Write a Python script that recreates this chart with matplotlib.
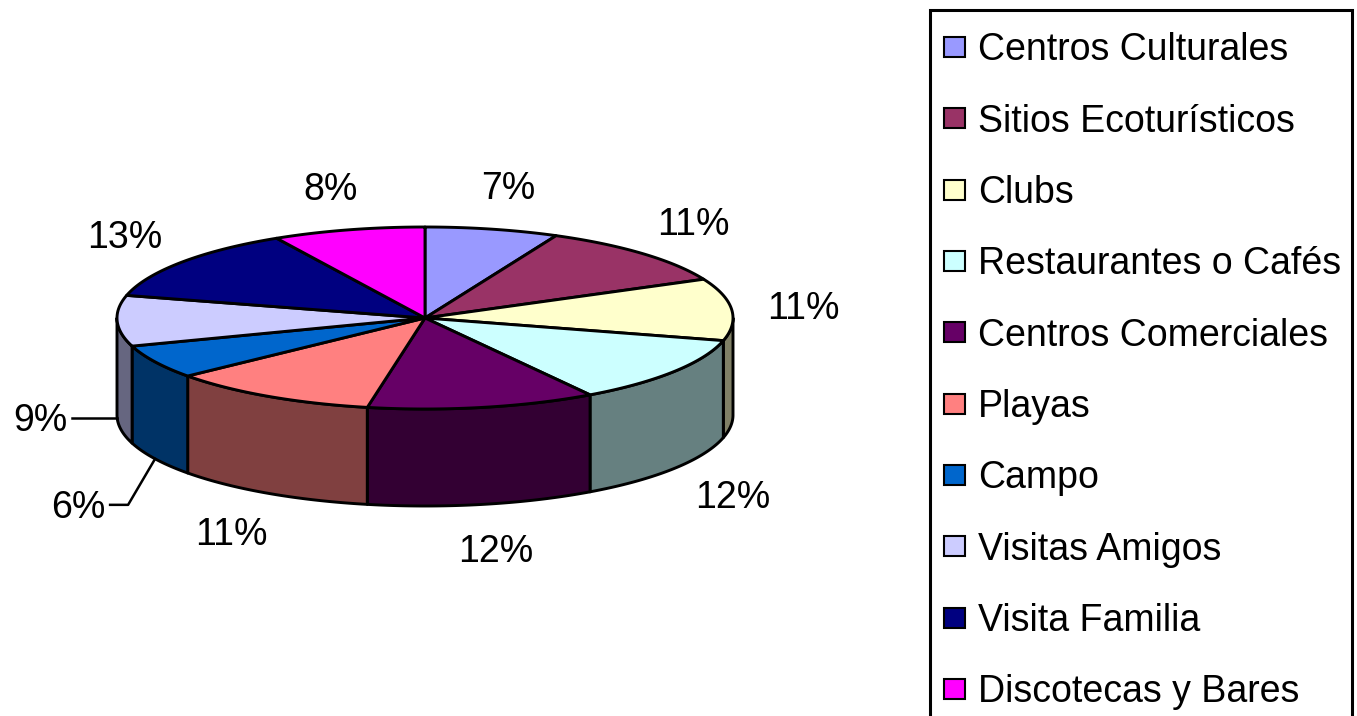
import numpy as np
import matplotlib

matplotlib.use("Agg")
import matplotlib.pyplot as plt
from matplotlib.colors import to_rgb
from matplotlib.patches import Polygon, Rectangle

plt.rcParams["font.family"] = ["Liberation Sans", "DejaVu Sans"]

# datos del gráfico (porcentaje por categoría, en sentido horario desde arriba)
categories = [
    "Centros Culturales",
    "Sitios Ecoturísticos",
    "Clubs",
    "Restaurantes o Cafés",
    "Centros Comerciales",
    "Playas",
    "Campo",
    "Visitas Amigos",
    "Visita Familia",
    "Discotecas y Bares",
]
shares = [7, 11, 11, 12, 12, 11, 6, 9, 13, 8]
colors = [
    "#9999FF", "#993366", "#FFFFCC", "#CCFFFF", "#660066",
    "#FF8080", "#0066CC", "#CCCCFF", "#000080", "#FF00FF",
]

W, H = 1357, 716
CX, CY = 425, 318          # centro de la tapa
RX, RY = 308, 91           # semiejes de la elipse
DEPTH = 97                 # grosor del pastel
LAB_A, LAB_B = 380, 136    # elipse de etiquetas
FS = 27
EM = FS * 100 / 72
CAP = 0.716 * EM

# etiquetas con línea guía: desplazamientos desde el borde inferior
leaders = {
    "Campo": [(-27, 46), (-45, 46)],
    "Visitas Amigos": [(-45, 0)],
}


def darker(c, f=0.5):
    r, g, b = to_rgb(c)
    return (r * f, g * f, b * f)


def ell(theta):
    t = np.radians(theta)
    return CX + RX * np.sin(t), CY - RY * np.cos(t)


fig = plt.figure(figsize=(W / 100, H / 100), dpi=100)
ax = fig.add_axes([0, 0, 1, 1])
ax.set_xlim(0, W)
ax.set_ylim(H, 0)
ax.axis("off")

bounds = np.concatenate([[0], np.cumsum(shares)]) / sum(shares) * 360
edge = dict(ec="black", lw=2.1, joinstyle="round")

# paredes laterales (solo la mitad frontal es visible)
for i, c in enumerate(colors):
    a0, a1 = max(bounds[i], 90), min(bounds[i + 1], 270)
    if a1 <= a0:
        continue
    t = np.linspace(a0, a1, 80)
    x, y = ell(t)
    pts = np.column_stack([np.r_[x, x[::-1]], np.r_[y, (y + DEPTH)[::-1]]])
    ax.add_patch(Polygon(pts, closed=True, fc=darker(c), **edge))

# tapa superior
for i, c in enumerate(colors):
    t = np.linspace(bounds[i], bounds[i + 1], 100)
    x, y = ell(t)
    pts = np.column_stack([np.r_[CX, x], np.r_[CY, y]])
    ax.add_patch(Polygon(pts, closed=True, fc=c, **edge))

# etiquetas de porcentaje
for i, (cat, v) in enumerate(zip(categories, shares)):
    mid = (bounds[i] + bounds[i + 1]) / 2
    t = np.radians(mid)
    label = f"{v}%"
    if cat in leaders:
        bx, by = ell(mid)
        by += DEPTH
        xs = [bx] + [bx + dx for dx, _ in leaders[cat]]
        ys = [by] + [by + dy for _, dy in leaders[cat]]
        ax.plot(xs, ys, color="black", lw=1.8)
        ax.text(xs[-1] - 5, ys[-1] + CAP / 2, label, fontsize=FS,
                ha="right", va="baseline")
        continue
    lx = CX + LAB_A * np.sin(t)
    ly = CY - LAB_B * np.cos(t) + (DEPTH if np.cos(t) < 0 else 0)
    ax.text(lx, ly + CAP / 2, label, fontsize=FS, ha="center", va="baseline")

# leyenda
ax.add_patch(Rectangle((930, 10), 422, 730, fc="white", ec="black", lw=2.2,
                       clip_on=False))
step = (689 - 47) / (len(categories) - 1)
for i, (cat, c) in enumerate(zip(categories, colors)):
    yc = 47 + i * step
    ax.add_patch(Rectangle((944, yc - 10), 21, 20, fc=c, ec="black", lw=1.5))
    ax.text(978, yc + CAP / 2, cat, fontsize=FS, ha="left", va="baseline")

fig.savefig("out.png", dpi=100)
